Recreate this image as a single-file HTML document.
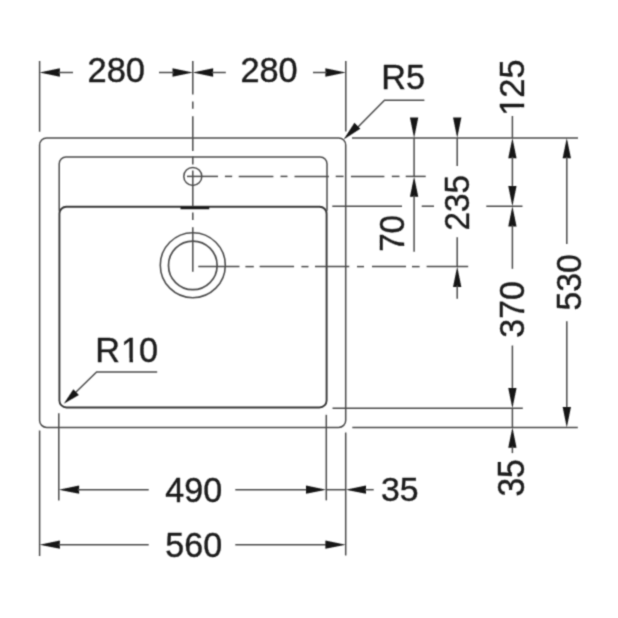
<!DOCTYPE html>
<html lang="en">
<head>
<meta charset="utf-8">
<title>Sink dimension drawing</title>
<style>
html,body{margin:0;padding:0;background:#fff;}
body{width:618px;height:618px;overflow:hidden;}
svg{display:block;}
text{font-family:"Liberation Sans",sans-serif;fill:#1a1a1a;stroke:#1a1a1a;stroke-width:0.4px;stroke-linejoin:round;font-kerning:none;}
</style>
</head>
<body>
<svg width="618" height="618" viewBox="0 0 618 618">
<defs><filter id="soft" filterUnits="userSpaceOnUse" x="0" y="0" width="618" height="618"><feConvolveMatrix order="3" kernelMatrix="0.0324 0.1152 0.0324 0.1152 0.4096 0.1152 0.0324 0.1152 0.0324" divisor="1" edgeMode="duplicate" preserveAlpha="false"/></filter></defs>
<rect width="618" height="618" fill="#ffffff"/>
<g filter="url(#soft)">
<g id="sink">
<rect x="39.6" y="137.9" width="306.1" height="289.5" rx="7" ry="7" fill="none" stroke="#4c4c4c" stroke-width="1.5"/>
<path d="M59.2,210.7 V163.9 A6.8,6.8 0 0 1 66.0,157.1 H320.2 A6.8,6.8 0 0 1 327,163.9 V210.7" fill="none" stroke="#4c4c4c" stroke-width="1.5"/>
<rect x="59.4" y="206.7" width="267.2" height="200.8" rx="7" ry="7" fill="none" stroke="#383838" stroke-width="1.9"/>
<circle cx="192.8" cy="176.4" r="9" fill="none" stroke="#4c4c4c" stroke-width="1.5"/>
<circle cx="192.8" cy="265.2" r="32.5" fill="none" stroke="#4c4c4c" stroke-width="1.6"/>
<circle cx="192.8" cy="265.4" r="24.3" fill="none" stroke="#4c4c4c" stroke-width="1.7"/>
<line x1="180.5" y1="208" x2="209.3" y2="208" stroke="#151515" stroke-width="2.4"/>
</g>
<g id="centre-lines">
<line x1="192.8" y1="61" x2="192.8" y2="94.5" stroke="#4c4c4c" stroke-width="1.5"/>
<line x1="192.8" y1="101.5" x2="192.8" y2="108.8" stroke="#4c4c4c" stroke-width="1.5"/>
<line x1="192.8" y1="116.2" x2="192.8" y2="151" stroke="#4c4c4c" stroke-width="1.5"/>
<line x1="192.8" y1="156.5" x2="192.8" y2="164.5" stroke="#4c4c4c" stroke-width="1.5"/>
<line x1="192.8" y1="170.4" x2="192.8" y2="206" stroke="#4c4c4c" stroke-width="1.5"/>
<line x1="192.8" y1="212.6" x2="192.8" y2="219.9" stroke="#4c4c4c" stroke-width="1.5"/>
<line x1="192.8" y1="227.2" x2="192.8" y2="271.7" stroke="#4c4c4c" stroke-width="1.5"/>
<line x1="187" y1="176.4" x2="218" y2="176.4" stroke="#4c4c4c" stroke-width="1.5"/>
<line x1="224.9" y1="176.4" x2="232.2" y2="176.4" stroke="#4c4c4c" stroke-width="1.5"/>
<line x1="238.7" y1="176.4" x2="273.4" y2="176.4" stroke="#4c4c4c" stroke-width="1.5"/>
<line x1="280.5" y1="176.4" x2="287.5" y2="176.4" stroke="#4c4c4c" stroke-width="1.5"/>
<line x1="294.5" y1="176.4" x2="328.9" y2="176.4" stroke="#4c4c4c" stroke-width="1.5"/>
<line x1="335.7" y1="176.4" x2="343.6" y2="176.4" stroke="#4c4c4c" stroke-width="1.5"/>
<line x1="350.9" y1="176.4" x2="384.4" y2="176.4" stroke="#4c4c4c" stroke-width="1.5"/>
<line x1="391.8" y1="176.4" x2="399.5" y2="176.4" stroke="#4c4c4c" stroke-width="1.5"/>
<line x1="405.7" y1="176.4" x2="425.7" y2="176.4" stroke="#4c4c4c" stroke-width="1.5"/>
<line x1="198.3" y1="266.6" x2="239.5" y2="266.6" stroke="#4c4c4c" stroke-width="1.5"/>
<line x1="245.4" y1="266.6" x2="253.8" y2="266.6" stroke="#4c4c4c" stroke-width="1.5"/>
<line x1="259.6" y1="266.6" x2="294.1" y2="266.6" stroke="#4c4c4c" stroke-width="1.5"/>
<line x1="301.4" y1="266.6" x2="308.5" y2="266.6" stroke="#4c4c4c" stroke-width="1.5"/>
<line x1="315" y1="266.6" x2="349.3" y2="266.6" stroke="#4c4c4c" stroke-width="1.5"/>
<line x1="357" y1="266.6" x2="364" y2="266.6" stroke="#4c4c4c" stroke-width="1.5"/>
<line x1="372" y1="266.6" x2="406" y2="266.6" stroke="#4c4c4c" stroke-width="1.5"/>
<line x1="412" y1="266.6" x2="419.6" y2="266.6" stroke="#4c4c4c" stroke-width="1.5"/>
<line x1="426.6" y1="266.6" x2="468.2" y2="266.6" stroke="#4c4c4c" stroke-width="1.5"/>
<line x1="421.7" y1="206.2" x2="434" y2="206.2" stroke="#4c4c4c" stroke-width="1.5"/>
</g>
<g id="dims-top">
<line x1="39.6" y1="61" x2="39.6" y2="131.7" stroke="#4c4c4c" stroke-width="1.5"/>
<line x1="345.8" y1="61" x2="345.8" y2="131.4" stroke="#4c4c4c" stroke-width="1.5"/>
<polygon points="39.6,72.5 59.9,76.65 59.9,68.35" fill="#161616"/>
<line x1="58.6" y1="72.5" x2="73" y2="72.5" stroke="#4c4c4c" stroke-width="1.5"/>
<polygon points="192.8,72.5 172.5,68.35 172.5,76.65" fill="#161616"/>
<line x1="159" y1="72.5" x2="173.8" y2="72.5" stroke="#4c4c4c" stroke-width="1.5"/>
<polygon points="192.8,72.5 213.1,76.65 213.1,68.35" fill="#161616"/>
<line x1="211.8" y1="72.5" x2="225.8" y2="72.5" stroke="#4c4c4c" stroke-width="1.5"/>
<polygon points="345.7,72.5 325.4,68.35 325.4,76.65" fill="#161616"/>
<line x1="313" y1="72.5" x2="326.7" y2="72.5" stroke="#4c4c4c" stroke-width="1.5"/>
<text transform="translate(87.53 82) scale(0.9957 1.0042)" font-size="34.6">280</text>
<text transform="translate(240.39 82) scale(0.9912 1.0042)" font-size="34.6">280</text>
</g>
<g id="radius-notes">
<text transform="translate(381.34 88.8) scale(0.9893 0.9979)" font-size="34.6">R5</text>
<polyline points="424.4,100.2 384.5,100.2 358,127" fill="none" stroke="#4c4c4c" stroke-width="1.5"/>
<polygon points="343.6,139.5 360.32,128.65 354.45,122.78" fill="#161616"/>
<clipPath id="nofoot1" clipPathUnits="userSpaceOnUse"><path clip-rule="evenodd" d="M-5,-40H90V15H-5Z M27.72,-3.78H34.64V2H27.72Z M38,-3.78H44.64V2H38Z"/></clipPath>
<text transform="translate(95.24 362.11) scale(0.9904 0.9960)" font-size="34.6" clip-path="url(#nofoot1)">R<tspan dx="1.1">1</tspan><tspan dx="-1.1">0</tspan></text>
<polyline points="157.2,372 96.6,372 75,393" fill="none" stroke="#4c4c4c" stroke-width="1.5"/>
<polygon points="63.8,403.8 78.88,394.98 73.36,389.19" fill="#161616"/>
</g>
<g id="dims-right">
<line x1="352" y1="137.9" x2="578" y2="137.9" stroke="#4c4c4c" stroke-width="1.5"/>
<line x1="332.3" y1="206.2" x2="402" y2="206.2" stroke="#4c4c4c" stroke-width="1.5"/>
<line x1="332.5" y1="408.2" x2="522.8" y2="408.2" stroke="#4c4c4c" stroke-width="1.5"/>
<line x1="352.3" y1="427.4" x2="577.8" y2="427.4" stroke="#4c4c4c" stroke-width="1.5"/>
<polygon points="414.1,137.9 418.25,117.6 409.95,117.6" fill="#161616"/>
<line x1="414.1" y1="137.9" x2="414.1" y2="176.4" stroke="#4c4c4c" stroke-width="1.5"/>
<polygon points="414.1,176.4 409.95,196.7 418.25,196.7" fill="#161616"/>
<line x1="414.1" y1="195.4" x2="414.1" y2="251.8" stroke="#4c4c4c" stroke-width="1.5"/>
<text transform="translate(403.91 251.84) rotate(-90) scale(0.9558 0.9960)" font-size="34.6">70</text>
<polygon points="457.2,137.9 461.35,117.6 453.05,117.6" fill="#161616"/>
<line x1="457.2" y1="137.9" x2="457.2" y2="166.1" stroke="#4c4c4c" stroke-width="1.5"/>
<text transform="translate(468.7 230.41) rotate(-90) scale(0.9591 1.0042)" font-size="34.6">235</text>
<line x1="457.2" y1="237.2" x2="457.2" y2="266.6" stroke="#4c4c4c" stroke-width="1.5"/>
<polygon points="457.2,266.6 453.05,286.9 461.35,286.9" fill="#161616"/>
<line x1="457.2" y1="285.6" x2="457.2" y2="298.7" stroke="#4c4c4c" stroke-width="1.5"/>
<clipPath id="nofoot2" clipPathUnits="userSpaceOnUse"><path clip-rule="evenodd" d="M-5,-40H90V15H-5Z M2.74,-3.78H9.65V2H2.74Z M13.01,-3.78H19.65V2H13.01Z"/></clipPath>
<text transform="translate(523.8 116.75) rotate(-90) scale(0.9936 1.0042)" font-size="34.6" clip-path="url(#nofoot2)"><tspan dx="1.1">1</tspan><tspan dx="-1.1">25</tspan></text>
<line x1="512.4" y1="116" x2="512.4" y2="137.9" stroke="#4c4c4c" stroke-width="1.5"/>
<polygon points="512.4,137.9 508.25,158.2 516.55,158.2" fill="#161616"/>
<line x1="512.4" y1="156.9" x2="512.4" y2="187.2" stroke="#4c4c4c" stroke-width="1.5"/>
<polygon points="512.4,206.2 516.55,185.9 508.25,185.9" fill="#161616"/>
<line x1="486.3" y1="206.2" x2="522.5" y2="206.2" stroke="#4c4c4c" stroke-width="1.5"/>
<polygon points="512.4,206.2 508.25,226.5 516.55,226.5" fill="#161616"/>
<line x1="512.4" y1="225.2" x2="512.4" y2="268.8" stroke="#4c4c4c" stroke-width="1.5"/>
<text transform="translate(524.2 337.64) rotate(-90) scale(0.9791 1.0246)" font-size="34.6">370</text>
<line x1="512.4" y1="345.5" x2="512.4" y2="389.2" stroke="#4c4c4c" stroke-width="1.5"/>
<polygon points="512.4,408.2 516.55,387.9 508.25,387.9" fill="#161616"/>
<line x1="512.4" y1="408.2" x2="512.4" y2="427.4" stroke="#4c4c4c" stroke-width="1.5"/>
<polygon points="512.4,427.4 508.25,447.7 516.55,447.7" fill="#161616"/>
<line x1="512.4" y1="446.4" x2="512.4" y2="453.1" stroke="#4c4c4c" stroke-width="1.5"/>
<text transform="translate(524.49 496.62) rotate(-90) scale(0.9690 1.0491)" font-size="34.6">35</text>
<polygon points="566.8,137.9 562.65,158.2 570.95,158.2" fill="#161616"/>
<line x1="566.8" y1="156.9" x2="566.8" y2="244" stroke="#4c4c4c" stroke-width="1.5"/>
<text transform="translate(580.59 310.5) rotate(-90) scale(0.9731 1.0287)" font-size="34.6">530</text>
<line x1="566.8" y1="321.3" x2="566.8" y2="408.4" stroke="#4c4c4c" stroke-width="1.5"/>
<polygon points="566.8,427.4 570.95,407.1 562.65,407.1" fill="#161616"/>
</g>
<g id="dims-bottom">
<line x1="58.8" y1="413.3" x2="58.8" y2="500.4" stroke="#4c4c4c" stroke-width="1.5"/>
<line x1="326.3" y1="414.8" x2="326.3" y2="500.4" stroke="#4c4c4c" stroke-width="1.5"/>
<line x1="39.6" y1="430.5" x2="39.6" y2="556" stroke="#4c4c4c" stroke-width="1.5"/>
<line x1="345.7" y1="432.5" x2="345.7" y2="555.5" stroke="#4c4c4c" stroke-width="1.5"/>
<polygon points="58.8,489.7 79.1,493.85 79.1,485.55" fill="#161616"/>
<line x1="77.8" y1="489.7" x2="148.7" y2="489.7" stroke="#4c4c4c" stroke-width="1.5"/>
<text transform="translate(165.27 501.91) scale(0.9844 0.9920)" font-size="34.6">490</text>
<line x1="235.3" y1="489.7" x2="307.3" y2="489.7" stroke="#4c4c4c" stroke-width="1.5"/>
<polygon points="326.3,489.7 306,485.55 306,493.85" fill="#161616"/>
<line x1="326.3" y1="489.7" x2="345.7" y2="489.7" stroke="#4c4c4c" stroke-width="1.5"/>
<polygon points="345.7,489.7 366,493.85 366,485.55" fill="#161616"/>
<line x1="364.7" y1="489.7" x2="373.7" y2="489.7" stroke="#4c4c4c" stroke-width="1.5"/>
<text transform="translate(381.06 501.02) scale(0.9774 0.9430)" font-size="34.6">35</text>
<polygon points="39.6,544.7 59.9,548.85 59.9,540.55" fill="#161616"/>
<line x1="58.6" y1="544.7" x2="148.7" y2="544.7" stroke="#4c4c4c" stroke-width="1.5"/>
<text transform="translate(165.29 557.31) scale(0.9840 0.9960)" font-size="34.6">560</text>
<line x1="235.3" y1="544.7" x2="326.7" y2="544.7" stroke="#4c4c4c" stroke-width="1.5"/>
<polygon points="345.7,544.7 325.4,540.55 325.4,548.85" fill="#161616"/>
</g>
</g>
</svg>
</body>
</html>
